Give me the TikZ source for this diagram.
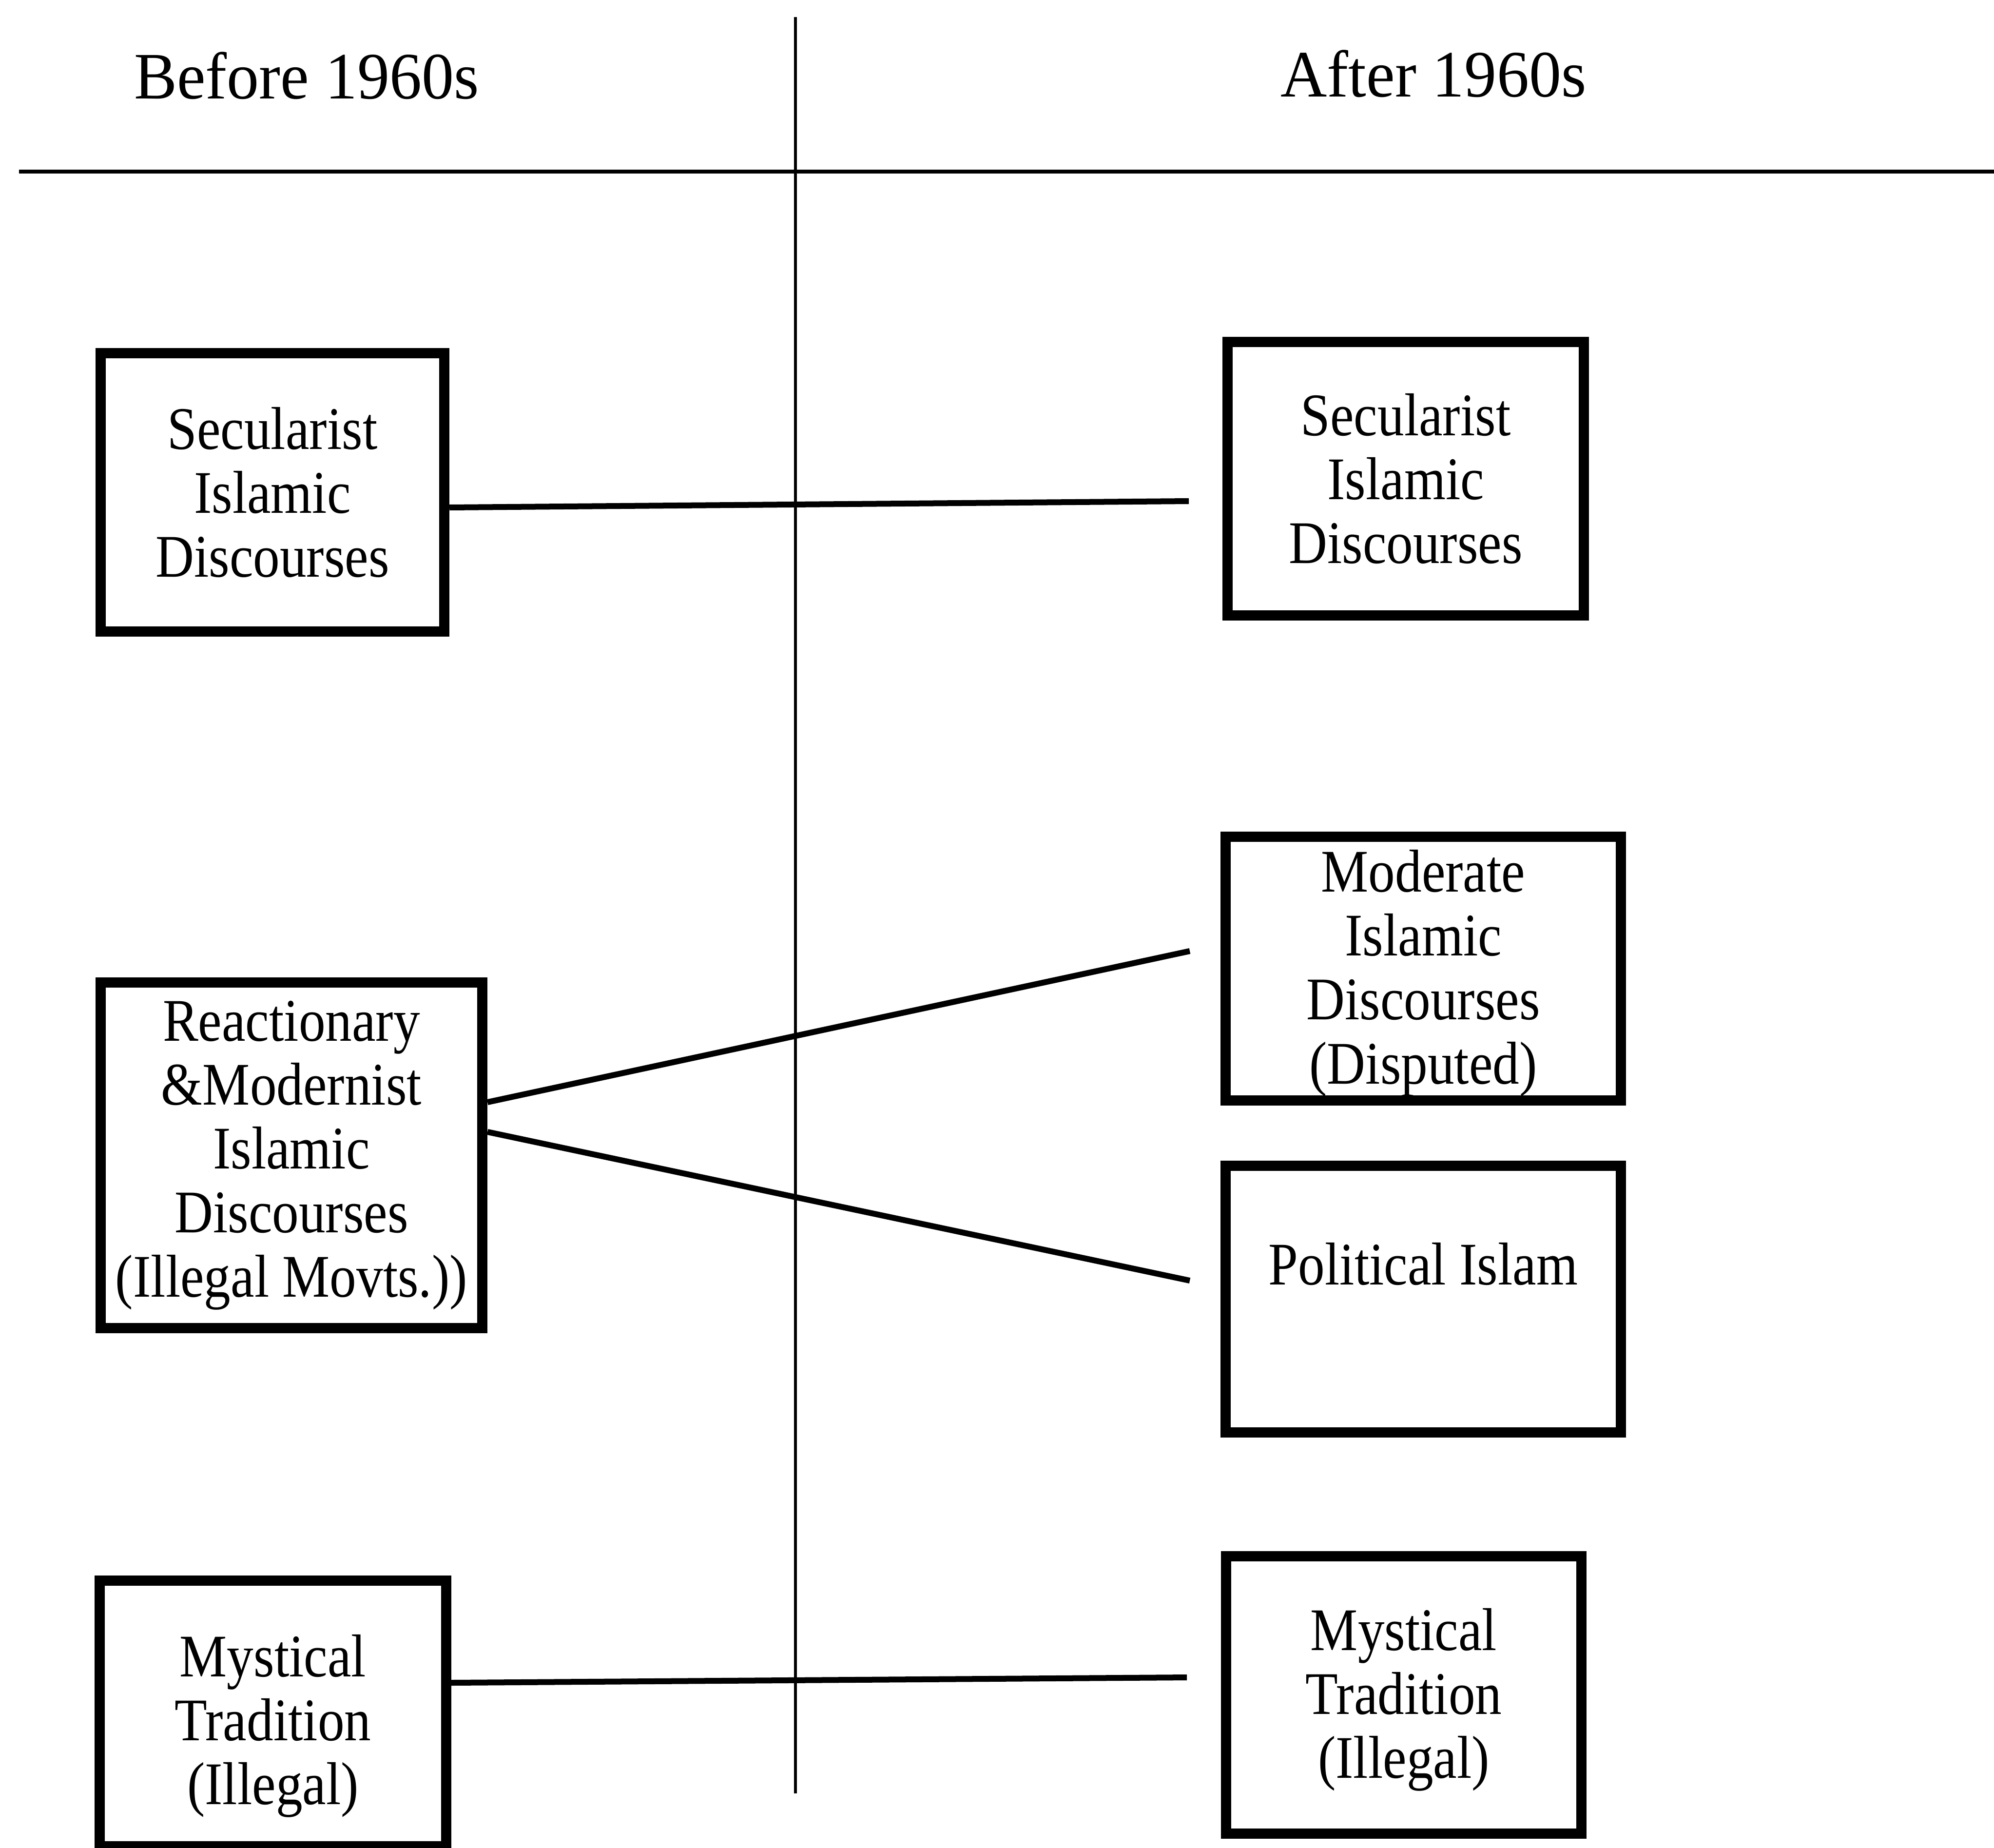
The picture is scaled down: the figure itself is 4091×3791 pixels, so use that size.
\documentclass[tikz,border=0pt]{standalone}
\usepackage{fontspec}
\setmainfont{Liberation Serif}
\newfontfamily\headfont[FakeStretch=0.97]{Liberation Serif}
\newfontfamily\boxfont[FakeStretch=0.88]{Liberation Serif}
\usetikzlibrary{calc}

% invisible strut that lowers the text block inside a box
\newcommand{\dropby}[1]{\rule{0pt}{#1}}

\begin{document}
\begin{tikzpicture}[x=0.01cm, y=-0.01cm,
  heading/.style={font=\headfont\fontsize{38.7}{40}\selectfont, anchor=base, inner sep=0pt},
  era/.style={draw, line width=0.21cm, inner sep=0pt, align=center,
              font=\boxfont\fontsize{35.3}{37.3}\selectfont},
  link/.style={line width=0.12cm},
  hrule/.style={line width=0.08cm},
  vrule/.style={line width=0.06cm}]

\useasboundingbox (0,0) rectangle (4091,3791);
\clip (0,0) rectangle (4091,3791);

% column headings
\node[heading] (before) at (629,203) {Before 1960s};
\node[heading] (after)  at (2941,199) {After 1960s};

% header rule and column divider
\coordinate (ruleL) at (39,352);
\coordinate (ruleR) at (4091,352);
\coordinate (divTop) at (1632,35);
\coordinate (divBot) at (1632,3679);
\draw[hrule] (ruleL) -- (ruleR);
\draw[vrule] (divTop) -- (divBot);

% discourses before the 1960s
\node[era, minimum width=7.05cm, minimum height=5.71cm] (secL) at (559,1010)
  {Secularist\\Islamic\\Discourses};
\node[era, minimum width=7.83cm, minimum height=7.09cm] (reac) at (598,2370)
  {Reactionary\\\&Modernist\\Islamic\\Discourses\\(Illegal Movts.))};
\node[era, minimum width=7.10cm, minimum height=5.45cm] (mysL) at (560,3515)
  {\dropby{1.37cm}Mystical\\Tradition\\(Illegal)};

% discourses after the 1960s
\node[era, minimum width=7.31cm, minimum height=5.60cm] (secR) at (2884,982)
  {Secularist\\Islamic\\Discourses};
\node[era, minimum width=8.10cm, minimum height=5.41cm] (mod) at (2920,1987)
  {\dropby{1.05cm}Moderate\\Islamic\\Discourses\\(Disputed)};
\node[era, minimum width=8.10cm, minimum height=5.46cm,
      text height=0.8cm, text depth=1.39cm] (pol) at (2920,2665)
  {Political Islam};
\node[era, minimum width=7.29cm, minimum height=5.69cm] (mysR) at (2880,3477)
  {\dropby{1.05cm}Mystical\\Tradition\\(Illegal)};

% lines of descent (they stop short of the later boxes)
\coordinate (e1) at (2439,1028);
\coordinate (e2) at (2441,1951);
\coordinate (e3) at (2441,2627);
\coordinate (e4) at (2435,3441);
\draw[link] ($(secL.east)+(0,31)$) -- (e1);
\draw[link] ($(reac.east)+(0,-109)$) -- (e2);
\draw[link] ($(reac.east)+(0,-48)$) -- (e3);
\draw[link] ($(mysL.east)+(0,-63)$) -- (e4);

\end{tikzpicture}
\end{document}
